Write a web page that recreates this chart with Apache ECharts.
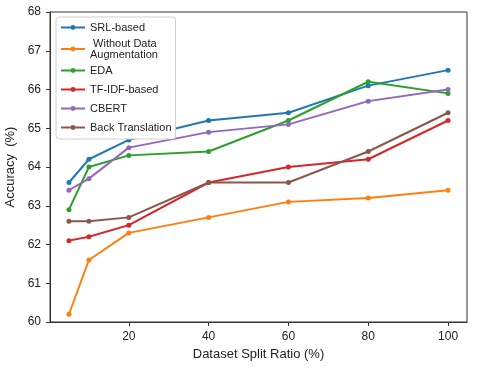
<!DOCTYPE html>
<html lang="en">
<head>
    <meta charset="UTF-8">
    <title>Accuracy vs Dataset Split Ratio</title>
    <script src="https://cdn.jsdelivr.net/npm/echarts@6/dist/echarts.min.js"></script>
    <style>
        * { margin: 0; padding: 0; box-sizing: border-box; }
        body { background: #ffffff; }
        #chart { width: 477px; height: 369px; }
    </style>
</head>
<body>
    <div id="chart"></div>
    <script type="text/javascript">
        // split ratios (%)
        const ratios = [5, 10, 20, 40, 60, 80, 100];
        const xTicks = [20, 40, 60, 80, 100];

        // accuracy values
        const srlBased = [63.6, 64.2, 64.7, 65.2, 65.4, 66.1, 66.5];
        const noAugment = [60.2, 61.6, 62.3, 62.7, 63.1, 63.2, 63.4];
        const eda = [62.9, 64.0, 64.3, 64.4, 65.2, 66.2, 65.9];
        const tfidfBased = [62.1, 62.2, 62.5, 63.6, 64.0, 64.2, 65.2];
        const cbert = [63.4, 63.7, 64.5, 64.9, 65.1, 65.7, 66.0];
        const backTranslation = [62.6, 62.6, 62.7, 63.6, 63.6, 64.4, 65.4];

        const seriesNames = ['SRL-based', ' Without Data\nAugmentation', 'EDA', 'TF-IDF-based', 'CBERT', 'Back Translation'];
        const seriesValues = [srlBased, noAugment, eda, tfidfBased, cbert, backTranslation];
        const colors = ['#1f77b4', '#ff7f0e', '#2ca02c', '#d62728', '#9467bd', '#8c564b'];

        const font = 'Liberation Sans, Arial, sans-serif';
        const chart = echarts.init(document.getElementById('chart'));

        const series = seriesNames.map((name, i) => ({
            name: name,
            type: 'line',
            data: ratios.map((r, j) => [r, seriesValues[i][j]]),
            symbol: 'circle',
            symbolSize: 5,
            itemStyle: { color: colors[i] },
            lineStyle: { width: 2, color: colors[i] },
            emphasis: { disabled: true }
        }));

        chart.setOption({
            animation: false,
            textStyle: { fontFamily: font },
            grid: {
                left: 50, right: 10, top: 12, bottom: 47,
                outerBoundsMode: 'none',
                show: true, borderColor: '#333', borderWidth: 1
            },
            legend: {
                orient: 'vertical',
                left: 56, top: 17,
                itemWidth: 24, itemHeight: 6,
                itemGap: 2,
                padding: [2, 4, 3, 4],
                backgroundColor: '#fff',
                borderColor: '#d0d0d0', borderWidth: 1, borderRadius: 3,
                textStyle: {
                    fontSize: 11, color: '#222', fontFamily: font, lineHeight: 17,
                    rich: { w: { fontSize: 11, color: '#222', fontFamily: font, lineHeight: 11 } }
                },
                formatter: function (name) {
                    if (name.indexOf('\n') < 0) return name;
                    return name.split('\n').map(s => '{w|' + s + '}').join('\n');
                },
                data: seriesNames
            },
            xAxis: {
                type: 'value',
                min: 0.25, max: 104.75,
                name: 'Dataset Split Ratio (%)',
                nameLocation: 'middle', nameGap: 26,
                nameTextStyle: { fontSize: 13, color: '#222' },
                axisLine: { show: true, lineStyle: { color: '#333' } },
                axisTick: { show: true, length: 4, customValues: xTicks, lineStyle: { color: '#333' } },
                axisLabel: { fontSize: 12, color: '#222', margin: 9, customValues: xTicks },
                splitLine: { show: false }
            },
            yAxis: {
                type: 'value',
                min: 60, max: 68, interval: 1,
                name: 'Accuracy  (%)',
                nameLocation: 'middle', nameGap: 29,
                nameTextStyle: { fontSize: 13, color: '#222' },
                axisLine: { show: true, lineStyle: { color: '#333' } },
                axisTick: { show: true, length: 4, lineStyle: { color: '#333' } },
                axisLabel: { fontSize: 12, color: '#222', margin: 9 },
                splitLine: { show: false }
            },
            series: series
        });
    </script>
</body>
</html>
